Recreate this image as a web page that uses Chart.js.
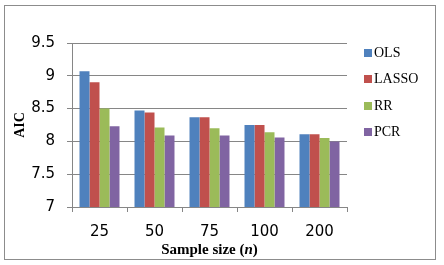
<!DOCTYPE html>
<html>
<head>
<meta charset="utf-8">
<script src="https://cdn.jsdelivr.net/npm/chart.js@4.4.0/dist/chart.umd.min.js"></script>
<style>
html,body{margin:0;padding:0;background:#fff;}
canvas{display:block;}
</style>
</head>
<body>
<canvas id="c" width="444" height="265"></canvas>
<script>
const categories = ['25', '50', '75', '100', '200'];
const seriesNames = ['OLS', 'LASSO', 'RR', 'PCR'];
const olsValues = [9.07, 8.47, 8.37, 8.25, 8.11];
const lassoValues = [8.90, 8.44, 8.37, 8.25, 8.11];
const rrValues = [8.50, 8.21, 8.20, 8.14, 8.05];
const pcrValues = [8.23, 8.09, 8.09, 8.06, 8.00];
const yTicks = [7, 7.5, 8, 8.5, 9, 9.5];
const colors = ['#4F81BD', '#C0504D', '#9BBB59', '#8064A2'];

const gridColor = '#868686';

const decor = {
  id: 'decor',
  beforeDraw(chart) {
    const ctx = chart.ctx;
    ctx.save();
    ctx.fillStyle = '#fff';
    ctx.fillRect(0, 0, chart.width, chart.height);
    ctx.strokeStyle = '#8c8c8c';
    ctx.lineWidth = 1;
    ctx.strokeRect(4.5, 5.5, 431, 254);
    ctx.restore();
  },
  afterDraw(chart) {
    const ctx = chart.ctx;
    const area = chart.chartArea;
    ctx.save();
    // legend
    ctx.textBaseline = 'middle';
    ctx.font = '14px "Liberation Serif", "Times New Roman", serif';
    chart.data.datasets.forEach((ds, i) => {
      const cy = 53 + i * 26.3;
      ctx.fillStyle = ds.backgroundColor;
      ctx.fillRect(364, Math.round(cy - 4), 8, 8);
      ctx.fillStyle = '#000';
      ctx.fillText(ds.label, 374, cy + 0.5);
    });
    // x axis title with italic n
    const parts = [
      {t: 'Sample size (', f: 'bold 15px "Liberation Serif", serif'},
      {t: 'n', f: 'italic bold 15px "Liberation Serif", serif'},
      {t: ')', f: 'bold 15px "Liberation Serif", serif'}
    ];
    let total = 0;
    parts.forEach(p => { ctx.font = p.f; p.w = ctx.measureText(p.t).width; total += p.w; });
    let x = (area.left + area.right) / 2 - total / 2;
    ctx.textBaseline = 'alphabetic';
    ctx.fillStyle = '#000';
    parts.forEach(p => { ctx.font = p.f; ctx.fillText(p.t, x, 254); x += p.w; });
    ctx.restore();
  }
};

const valueLists = [olsValues, lassoValues, rrValues, pcrValues];

new Chart(document.getElementById('c'), {
  type: 'bar',
  data: {
    labels: categories,
    datasets: seriesNames.map((name, i) => ({
      label: name,
      data: valueLists[i],
      backgroundColor: colors[i],
      borderWidth: 0,
      categoryPercentage: 0.727,
      barPercentage: 1.0
    }))
  },
  options: {
    responsive: false,
    animation: false,
    devicePixelRatio: 1,
    layout: { padding: { left: 0, top: 43, right: 97, bottom: 0 } },
    plugins: {
      legend: { display: false },
      tooltip: { enabled: false }
    },
    scales: {
      x: {
        offset: true,
        grid: {
          offset: true,
          drawOnChartArea: false,
          drawTicks: true,
          tickLength: 5,
          color: gridColor,
          lineWidth: 1
        },
        border: { color: gridColor, width: 1 },
        ticks: {
          color: '#000',
          padding: 11,
          font: { family: '"DejaVu Sans", Verdana, sans-serif', size: 15 },
          maxRotation: 0
        },
        afterFit(scale) { scale.height = 58; }
      },
      y: {
        min: yTicks[0],
        max: yTicks[yTicks.length - 1],
        afterBuildTicks(scale) { scale.ticks = yTicks.map(v => ({ value: v })); },
        grid: {
          color: gridColor,
          lineWidth: 1,
          drawTicks: true,
          tickLength: 5
        },
        border: { color: gridColor, width: 1 },
        ticks: {
          color: '#000',
          padding: 12,
          font: { family: '"DejaVu Sans", Verdana, sans-serif', size: 15 },
          callback: v => String(v)
        },
        title: {
          display: true,
          text: 'AIC',
          color: '#000',
          font: { family: '"Liberation Serif", serif', size: 14, weight: 'bold' },
          padding: { top: 12, bottom: 0 }
        },
        afterFit(scale) { scale.width = 72; }
      }
    }
  },
  plugins: [decor]
});
</script>
</body>
</html>
